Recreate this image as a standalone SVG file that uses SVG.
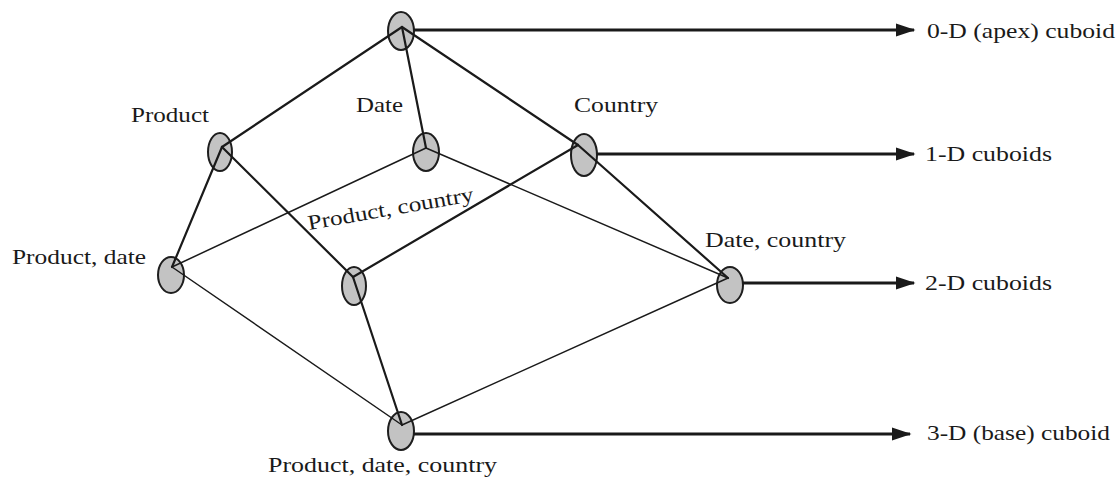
<svg xmlns="http://www.w3.org/2000/svg" width="1117" height="479" viewBox="0 0 1117 479">
<style>
  .nd { fill: #c3c3c3; stroke: #1e1e1e; stroke-width: 2; }
  .lb { font-family: "Liberation Serif", "Times New Roman", serif; font-size: 21px; fill: #1a1a1a; }
  .e { stroke: #1a1a1a; fill: none; stroke-linecap: round; }
  .t { stroke-width: 2.2; }
  .n { stroke-width: 1.5; }
  .ar { stroke: #1a1a1a; stroke-width: 3; fill: none; }
</style>
<defs>
  <marker id="ah" markerWidth="6.5" markerHeight="4.4" refX="6" refY="2.2" orient="auto" markerUnits="strokeWidth">
    <path d="M0,0 L6.5,2.2 L0,4.4 Z" fill="#1a1a1a"/>
  </marker>
</defs>
<rect width="1117" height="479" fill="#ffffff"/>

<g id="apex"><ellipse class="nd" cx="401" cy="31" rx="13" ry="19"/></g>
<g id="product"><ellipse class="nd" cx="220" cy="152" rx="12" ry="19"/><text class="lb" x="131" y="122" textLength="78" lengthAdjust="spacingAndGlyphs">Product</text></g>
<g id="date"><ellipse class="nd" cx="426" cy="152" rx="13" ry="19"/><text class="lb" x="356" y="112" textLength="47" lengthAdjust="spacingAndGlyphs">Date</text></g>
<g id="country"><ellipse class="nd" cx="584" cy="155" rx="13" ry="21"/><text class="lb" x="574" y="112" textLength="84" lengthAdjust="spacingAndGlyphs">Country</text></g>
<g id="product-date"><ellipse class="nd" cx="171" cy="275" rx="13" ry="18"/><text class="lb" x="12" y="264" textLength="134" lengthAdjust="spacingAndGlyphs">Product, date</text></g>
<g id="product-country"><ellipse class="nd" cx="354" cy="286" rx="12" ry="19"/><text class="lb" x="309" y="230" transform="rotate(-10 309 230)" textLength="168" lengthAdjust="spacingAndGlyphs">Product, country</text></g>
<g id="date-country"><ellipse class="nd" cx="730" cy="285" rx="13" ry="18"/><text class="lb" x="705" y="247" textLength="141" lengthAdjust="spacingAndGlyphs">Date, country</text></g>
<g id="base"><ellipse class="nd" cx="401" cy="431" rx="13" ry="19"/><text class="lb" x="268" y="472" textLength="229" lengthAdjust="spacingAndGlyphs">Product, date, country</text></g>

<g id="connectors">
  <line class="e t" x1="402" y1="27" x2="222" y2="147"/>
  <line class="e t" x1="402" y1="27" x2="426" y2="148"/>
  <line class="e t" x1="402" y1="27" x2="578" y2="145"/>
  <line class="e t" x1="222" y1="147" x2="172" y2="267"/>
  <line class="e t" x1="222" y1="147" x2="353" y2="277"/>
  <line class="e n" x1="426" y1="148" x2="172" y2="267"/>
  <line class="e n" x1="426" y1="148" x2="728" y2="278"/>
  <line class="e t" x1="578" y1="145" x2="353" y2="277"/>
  <line class="e t" x1="578" y1="145" x2="728" y2="278"/>
  <line class="e n" x1="172" y1="267" x2="402" y2="425"/>
  <line class="e t" x1="353" y1="277" x2="402" y2="425"/>
  <line class="e n" x1="728" y1="278" x2="402" y2="425"/>

  <line class="ar" x1="414" y1="30" x2="914" y2="30" marker-end="url(#ah)"/>
  <line class="ar" x1="597" y1="154" x2="914" y2="154" marker-end="url(#ah)"/>
  <line class="ar" x1="743" y1="283" x2="914" y2="283" marker-end="url(#ah)"/>
  <line class="ar" x1="414" y1="434" x2="910" y2="434" marker-end="url(#ah)"/>
</g>

<g id="right-labels">
  <text class="lb" x="927" y="38" textLength="188" lengthAdjust="spacingAndGlyphs">0-D (apex) cuboid</text>
  <text class="lb" x="925" y="161" textLength="127" lengthAdjust="spacingAndGlyphs">1-D cuboids</text>
  <text class="lb" x="925" y="290" textLength="127" lengthAdjust="spacingAndGlyphs">2-D cuboids</text>
  <text class="lb" x="927" y="440" textLength="183" lengthAdjust="spacingAndGlyphs">3-D (base) cuboid</text>
</g>
</svg>
